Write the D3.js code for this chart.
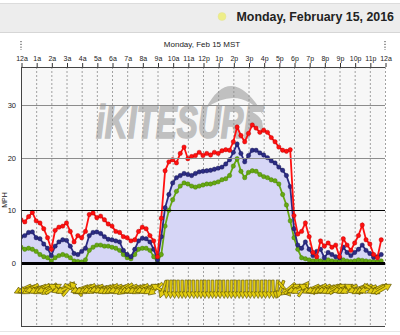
<!DOCTYPE html>
<html><head><meta charset="utf-8">
<script src="https://cdn.jsdelivr.net/npm/d3@7"></script>
<style>
html,body{margin:0;padding:0;background:#fff;}
svg{display:block;font-family:"Liberation Sans",Arial,sans-serif;}
</style></head>
<body>
<svg id="c" width="400" height="335"></svg>
<script>
// ---- data (15-minute samples, starting 12a) ----
const headerTitle = "Monday, February 15, 2016";
const chartTitle = "Monday, Feb 15 MST";
const hourLabels = ["12a","1a","2a","3a","4a","5a","6a","7a","8a","9a","10a","11a","12p","1p","2p","3p","4p","5p","6p","7p","8p","9p","10p","11p","12a"];
const yTicks = [0,10,20,30];
const yLabel = "MPH";
const sampleMinutes = 15;
const gust = [8.2,7.8,8.8,9.6,8.0,7.6,6.5,4.8,2.6,6.2,6.8,7.0,7.6,6.0,4.0,5.2,4.8,6.0,9.2,9.5,8.6,8.9,8.2,7.4,7.0,6.0,5.8,5.0,4.8,4.2,4.4,6.0,6.8,6.5,5.2,4.2,1.2,8.5,17.5,19.2,19.6,19.0,20.8,22.0,19.8,20.2,20.4,21.0,20.4,20.8,20.5,21.0,20.8,21.3,21.5,21.4,23.0,25.8,24.2,23.0,24.6,26.2,25.6,24.8,25.2,24.8,23.8,23.0,22.0,21.4,21.2,21.5,9.0,5.5,6.0,7.6,5.0,2.0,1.2,4.2,3.2,3.8,3.0,3.4,1.2,4.6,3.4,2.4,3.8,5.2,7.2,4.4,3.6,1.6,1.0,4.4];
const avg = [5.0,5.2,5.8,5.9,4.8,4.6,3.6,2.8,1.4,3.2,4.0,4.4,4.3,3.2,1.8,1.6,2.2,2.8,5.2,5.8,5.9,5.6,5.0,4.5,4.4,4.2,4.0,2.4,1.6,1.2,2.6,4.2,4.7,4.6,4.0,2.6,0.6,5.0,10.5,13.0,15.2,16.2,16.6,17.0,16.8,16.6,17.0,17.3,17.4,17.5,17.6,17.8,18.0,18.2,18.8,19.6,21.0,22.6,20.8,19.2,20.4,21.4,21.4,20.9,20.5,20.0,19.4,19.0,18.2,17.6,16.6,14.5,6.5,3.4,2.8,4.0,2.6,1.4,2.2,2.6,1.0,2.0,1.6,1.2,1.0,3.0,2.0,1.4,2.0,2.6,3.4,2.4,1.8,1.1,1.2,1.6];
const lull = [3.0,2.6,2.8,2.6,2.2,1.6,1.2,1.0,0.4,1.0,1.4,1.6,1.4,1.0,0.4,0.3,0.2,0.6,2.4,3.0,3.4,3.4,3.2,3.2,3.0,2.8,2.4,1.6,1.0,0.8,1.6,2.6,2.8,2.8,2.4,1.2,0.2,1.6,7.0,10.0,12.0,13.6,14.6,15.2,15.0,14.6,14.4,14.6,14.8,15.0,15.0,15.2,15.4,15.8,16.0,16.6,18.4,19.8,17.4,16.2,17.2,17.5,17.4,16.8,16.4,16.2,15.8,15.6,15.0,13.0,11.0,8.0,4.8,2.6,1.0,0.8,0.6,0.4,0.6,0.4,0.3,0.6,0.4,0.3,0.4,0.6,0.4,0.3,0.4,0.6,0.5,0.4,0.3,0.3,0.2,0.4];
// wind direction arrows (degrees of rotation, 0 = pointing up)
const windDir = [245,250,240,255,245,240,250,235,60,300,250,245,40,120,320,250,245,240,250,245,255,250,245,240,245,250,240,235,245,250,245,240,250,245,240,230,300,200,185,182,180,178,180,182,180,178,180,181,180,179,180,182,180,178,180,181,180,179,180,180,181,180,179,180,181,180,178,185,200,140,230,60,250,245,35,300,245,250,240,245,250,245,240,60,250,245,245,300,250,240,245,250,120,245,240,60];

// ---- layout ----
const svg = d3.select("#c");
const W = 400;
const L = 21, R = 385, TOP = 67, ZERO = 263, BOT = 326;
const x = d3.scaleLinear().domain([0,24]).range([L,R]);
const y = d3.scaleLinear().domain([0,37.2]).range([ZERO,TOP]);
const t = i => i*sampleMinutes/60;

// header band
svg.append("rect").attr("x",0).attr("y",3).attr("width",W).attr("height",29).attr("fill","#ededed");
svg.append("line").attr("x1",0).attr("x2",W).attr("y1",3.5).attr("y2",3.5).attr("stroke","#dcdcdc");
svg.append("line").attr("x1",0).attr("x2",W).attr("y1",32.5).attr("y2",32.5).attr("stroke","#d6d6d6");
svg.append("circle").attr("cx",222).attr("cy",16.5).attr("r",4).attr("fill","#eeee88").attr("stroke","#e2e29a").attr("stroke-width",0.5);
svg.append("text").attr("x",394).attr("y",21).attr("text-anchor","end")
  .attr("font-size",12.4).attr("font-weight","bold").attr("fill","#222").text(headerTitle);

// chart title
svg.append("text").attr("x",202).attr("y",47).attr("text-anchor","middle")
  .attr("font-size",8).attr("fill","#222").text(chartTitle);
[L,R].forEach(px => svg.append("line").attr("x1",px).attr("x2",px).attr("y1",41).attr("y2",50)
  .attr("stroke","#333").attr("stroke-dasharray","1.2,1.6"));

// plot backgrounds
svg.append("rect").attr("x",L).attr("y",TOP).attr("width",R-L).attr("height",BOT-TOP).attr("fill","#f7f7f7");

// watermark
const wm = svg.append("g").attr("fill","#c0c0c0");
wm.append("path").attr("d","M206,108 Q232,60 265,117 Q240,84 206,108 Z");
wm.append("path").attr("d","M252,112 Q266,118 262,134 Q258,122 248,118 Z");
wm.append("text").attr("x",96).attr("y",138).attr("font-size",46).attr("font-weight","bold")
  .attr("font-style","italic").attr("textLength",167).attr("lengthAdjust","spacingAndGlyphs")
  .attr("stroke","#c0c0c0").attr("stroke-width",1.6)
  .attr("font-family","'Liberation Sans',Arial,sans-serif").text("iKITESURF");

// vertical dashed grid
svg.append("g").selectAll("line").data(d3.range(1,25)).join("line")
  .attr("x1",d=>x(d)+0.5).attr("x2",d=>x(d)+0.5).attr("y1",TOP).attr("y2",BOT)
  .attr("stroke","#8a8a8a").attr("stroke-width",0.8).attr("stroke-dasharray","2,2");

// area under avg
const clip = svg.append("clipPath").attr("id","pc").append("rect")
  .attr("x",L).attr("y",TOP).attr("width",R-L+1).attr("height",ZERO-TOP);
const plot = svg.append("g").attr("clip-path","url(#pc)");
plot.append("path").datum(avg)
  .attr("d",d3.area().x((d,i)=>x(t(i))).y0(y(0)).y1(d=>y(d)))
  .attr("fill","#d6d6f6");

// horizontal lines
svg.append("g").selectAll("line").data(yTicks).join("line")
  .attr("x1",L).attr("x2",R).attr("y1",d=>Math.round(y(d))+0.5).attr("y2",d=>Math.round(y(d))+0.5)
  .attr("stroke",d=>d>=20?"#8c8c8c":"#000").attr("stroke-width",d=>d===0?3:1);

// series
const series = [
  {vals:lull, color:"#66a812", edge:"#3f7a00"},
  {vals:avg, color:"#2c2c84", edge:"#16164f"},
  {vals:gust, color:"#ff1010", edge:"#b00000"}
];
const line = d3.line().x((d,i)=>x(t(i))).y(d=>y(d));
series.forEach(s=>{
  plot.append("path").datum(s.vals).attr("d",line).attr("fill","none")
    .attr("stroke",s.color).attr("stroke-width",1.8);
  plot.append("g").selectAll("circle").data(s.vals).join("circle")
    .attr("cx",(d,i)=>x(t(i))).attr("cy",d=>y(d)).attr("r",2.2)
    .attr("fill",s.color).attr("stroke",s.edge).attr("stroke-width",0.4);
});

// wind direction arrows
const arrowPath = "M-1.3,9 L1.3,9 L1.3,-3 L3.6,-3 L0,-9.5 L-3.6,-3 L-1.3,-3 Z";
svg.append("g").selectAll("path").data(windDir).join("path")
  .attr("d",arrowPath)
  .attr("transform",(d,i)=>`translate(${x(t(i)+0.125)},289) rotate(${d})`)
  .attr("fill","#e2cc10").attr("stroke","#5a5000").attr("stroke-width",0.6);

// borders
svg.append("line").attr("x1",L).attr("x2",R).attr("y1",TOP+0.5).attr("y2",TOP+0.5).attr("stroke","#444");
svg.append("line").attr("x1",L+0.5).attr("x2",L+0.5).attr("y1",TOP).attr("y2",BOT+0.5).attr("stroke","#444");
svg.append("line").attr("x1",L).attr("x2",R).attr("y1",BOT+0.5).attr("y2",BOT+0.5).attr("stroke","#444");
svg.append("line").attr("x1",0).attr("x2",W).attr("y1",331.5).attr("y2",331.5).attr("stroke","#e6e6e6");

// top axis
const xAxis = d3.axisTop(x).tickValues(d3.range(0,25)).tickFormat((d,i)=>hourLabels[i]).tickSize(4).tickPadding(2);
const gx = svg.append("g").attr("transform",`translate(0.5,${TOP})`).call(xAxis);
gx.select(".domain").remove();
gx.selectAll("line").attr("stroke","#333");
gx.selectAll("text").attr("font-size",7).attr("fill","#222").attr("font-family","'Liberation Sans',Arial,sans-serif");

// left axis labels
const yAxis = d3.axisLeft(y).tickValues(yTicks).tickSize(0).tickPadding(5);
const gy = svg.append("g").attr("transform",`translate(${L},0)`).call(yAxis);
gy.select(".domain").remove();
gy.selectAll("text").attr("font-size",7.5).attr("fill","#222").attr("font-family","'Liberation Sans',Arial,sans-serif");
svg.append("text").attr("transform","translate(7,200) rotate(-90)").attr("text-anchor","middle")
  .attr("font-size",7).attr("fill","#222").text(yLabel);
</script>
</body></html>
